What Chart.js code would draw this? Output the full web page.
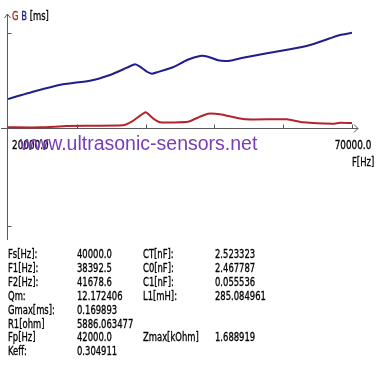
<!DOCTYPE html>
<html><head><meta charset="utf-8">
<script src="https://cdn.jsdelivr.net/npm/chart.js@4.4.1/dist/chart.umd.min.js"></script>
<style>
html,body{margin:0;padding:0;background:#fff;width:377px;height:377px;overflow:hidden;}
#wrap{position:relative;width:377px;height:377px;}
canvas{position:absolute;left:0;top:0;}
.t{position:absolute;font-family:"DejaVu Sans Condensed","Liberation Sans Narrow",sans-serif;font-size:12px;color:#000;white-space:nowrap;line-height:14px;transform:scaleX(0.78);transform-origin:0 0;-webkit-text-stroke:0.3px #000;}
#wm{position:absolute;left:20px;top:132px;font-family:"Liberation Sans",Arial,sans-serif;font-size:19.5px;color:#7a3cb8;white-space:nowrap;line-height:22px;}
#params{position:absolute;left:0;top:247px;}
</style></head>
<body><div id="wrap">
<canvas id="c" width="377" height="377"></canvas>
<div class="t" style="left:12px;top:9px;"><span style="color:#b4232a;-webkit-text-stroke-color:#b4232a">G</span> <span style="color:#1e1e8c;-webkit-text-stroke-color:#1e1e8c">B</span> [ms]</div>
<div class="t" style="left:352px;top:155px;">F[Hz]</div>
<div id="wm">www.ultrasonic-sensors.net</div>
<div id="params"></div>
</div>
<script>
// ---- data ----
const gFreq   = [20000, 24898, 28532, 36715, 37980, 40000, 41076, 42093, 46163, 47907, 49070, 50814, 54448, 60552, 62878, 67238, 68256, 70000];
const gValues = [0.007, 0.007, 0.021, 0.028, 0.066, 0.165, 0.102, 0.060, 0.066, 0.119, 0.151, 0.144, 0.092, 0.092, 0.060, 0.045, 0.056, 0.053];
const bFreq   = [20000, 23634, 27994, 31919, 34826, 37297, 38459, 39186, 40203, 40930, 41657, 43983, 46017, 47907, 49070, 50523, 52267, 54157, 57645, 60988, 63895, 66802, 68256, 70000];
const bValues = [0.305, 0.382, 0.460, 0.498, 0.558, 0.635, 0.670, 0.645, 0.592, 0.571, 0.586, 0.639, 0.716, 0.758, 0.751, 0.713, 0.709, 0.740, 0.786, 0.828, 0.874, 0.944, 0.979, 1.003];
const xTickValues = [20000, 30000, 40000, 50000, 60000, 70000];
const xTickLabels = ['20000.0', '', '', '', '', '70000.0'];
const yTickValues = [1, -1.03];
const paramLabels1 = ['Fs[Hz]:', 'F1[Hz]:', 'F2[Hz]:', 'Qm:', 'Gmax[ms]:', 'R1[ohm]', 'Fp[Hz]', 'Keff:'];
const paramValues1 = ['40000.0', '38392.5', '41678.6', '12.172406', '0.169893', '5886.063477', '42000.0', '0.304911'];
const paramLabels2 = ['CT[nF]:', 'C0[nF]:', 'C1[nF]:', 'L1[mH]:', '', '', 'Zmax[kOhm]', ''];
const paramValues2 = ['2.523323', '2.467787', '0.055536', '285.084961', '', '', '1.688919', ''];

// parameter table (text)
const params = document.getElementById('params');
paramLabels1.forEach((lab, i) => {
  const cells = [[8, lab], [77, paramValues1[i]], [143, paramLabels2[i]], [215, paramValues2[i]]];
  cells.forEach(([x, txt]) => {
    if (!txt) return;
    const d = document.createElement('div');
    d.className = 't';
    d.style.left = x + 'px';
    d.style.top = (i * 13.9) + 'px';
    d.textContent = txt;
    params.appendChild(d);
  });
});

const axisColor = '#5a5a5a';
const axesPlugin = {
  id: 'axes',
  beforeDatasetsDraw(chart) {
    const ctx = chart.ctx, xs = chart.scales.x, ys = chart.scales.y;
    const x0 = Math.round(xs.getPixelForValue(20000)) - 0.5;
    const y0 = Math.round(ys.getPixelForValue(0)) + 0.5;
    const xEnd = xs.getPixelForValue(70000);
    const yTop = ys.getPixelForValue(1.2);
    ctx.save();
    ctx.strokeStyle = axisColor; ctx.lineWidth = 1;
    ctx.beginPath();
    ctx.moveTo(x0, yTop); ctx.lineTo(x0, ys.getPixelForValue(-1.2) - 2);
    ctx.moveTo(1, y0); ctx.lineTo(xEnd + 6, y0);
    ctx.moveTo(x0 - 3, yTop + 4); ctx.lineTo(x0, yTop); ctx.lineTo(x0 + 3, yTop + 4);
    ctx.moveTo(xEnd + 2, y0 - 4); ctx.lineTo(xEnd + 6, y0); ctx.lineTo(xEnd + 2, y0 + 4);
    xTickValues.forEach(v => { const px = Math.round(xs.getPixelForValue(v)) + 0.5; if (v > 20000) { ctx.moveTo(px, y0); ctx.lineTo(px, y0 - 4); } });
    yTickValues.forEach(v => { const py = Math.round(ys.getPixelForValue(v)) + 0.5; ctx.moveTo(x0, py); ctx.lineTo(x0 + 4, py); });
    ctx.stroke();
    ctx.fillStyle = '#000'; ctx.strokeStyle = '#000'; ctx.lineWidth = 0.3;
    ctx.font = '12px "DejaVu Sans Condensed","Liberation Sans Narrow",sans-serif';
    ctx.textBaseline = 'alphabetic';
    ctx.textAlign = 'left';
    xTickValues.forEach((v, i) => {
      const lab = xTickLabels[i]; if (!lab) return;
      const px = xs.getPixelForValue(v);
      const w = ctx.measureText(lab).width * 0.82;
      const left = i === 0 ? px + 4 : px + 1 - w / 2;
      ctx.save(); ctx.translate(left, y0 + 20); ctx.scale(0.82, 1); ctx.fillText(lab, 0, 0); ctx.strokeText(lab, 0, 0); ctx.restore();
    });
    ctx.restore();
  }
};

new Chart(document.getElementById('c'), {
  type: 'line',
  data: {
    datasets: [
      { label: 'B', data: bFreq.map((f, i) => ({x: f, y: bValues[i]})), borderColor: '#1e1e8c', borderWidth: 2, pointRadius: 0, tension: 0.15, fill: false },
      { label: 'G', data: gFreq.map((f, i) => ({x: f, y: gValues[i]})), borderColor: '#b4232a', borderWidth: 2, pointRadius: 0, tension: 0.15, fill: false }
    ]
  },
  options: {
    responsive: false, devicePixelRatio: 1, animation: false,
    layout: { padding: { left: 8, right: 25, top: 14, bottom: 135 } },
    plugins: { legend: { display: false }, tooltip: { enabled: false } },
    scales: {
      x: { type: 'linear', min: 20000, max: 70000, display: false },
      y: { type: 'linear', min: -1.2, max: 1.2, display: false }
    }
  },
  plugins: [axesPlugin]
});
</script>
</body></html>
